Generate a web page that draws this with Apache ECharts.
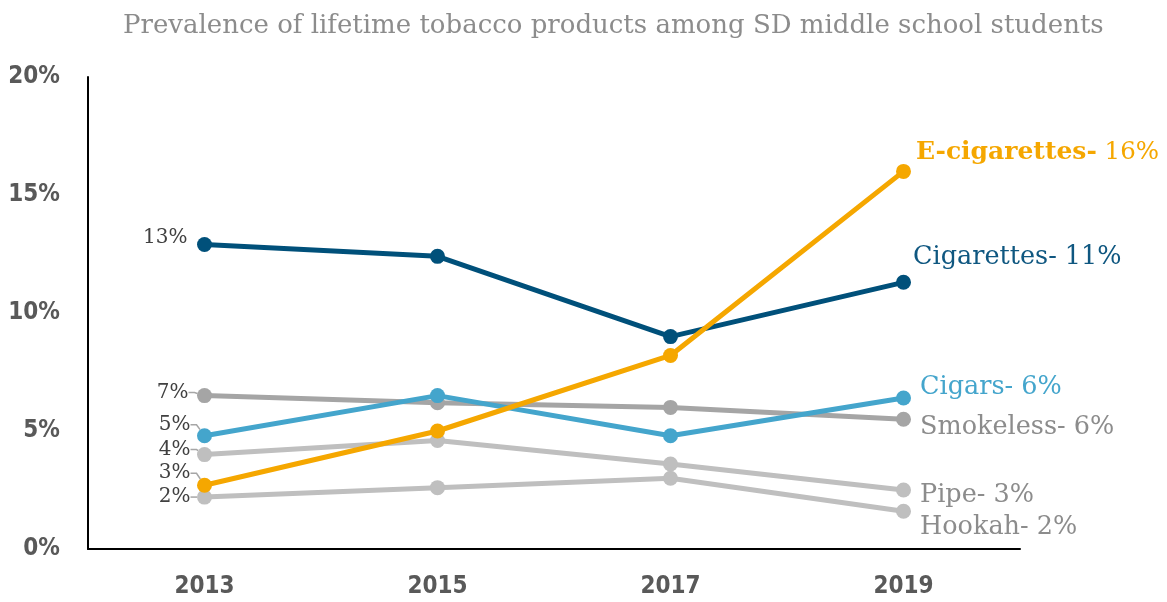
<!DOCTYPE html>
<html>
<head>
<meta charset="utf-8">
<script src="https://cdn.jsdelivr.net/npm/echarts@6/dist/echarts.min.js"></script>
<style>html,body{margin:0;padding:0;background:#fff;}#c{width:1167px;height:602px;}</style>
</head>
<body>
<div id="c"></div>
<script>
var years = ['2013', '2015', '2017', '2019'];
var yTicks = [0, 5, 10, 15, 20];
var seriesNames = ['Hookah', 'Pipe', 'Smokeless', 'Cigars', 'Cigarettes', 'E-cigarettes'];
var hookah = [2.2, 2.6, 3.0, 1.6];
var pipe = [4.0, 4.6, 3.6, 2.5];
var smokeless = [6.5, 6.2, 6.0, 5.5];
var cigars = [4.8, 6.5, 4.8, 6.4];
var cigarettes = [12.9, 12.4, 9.0, 11.3];
var ecigarettes = [2.7, 5.0, 8.2, 16.0];
var startLabels = ['2%', '4%', '7%', '5%', '13%', '3%'];
var endLabels = ['2%', '3%', '6%', '6%', '11%', '16%'];

var values = [hookah, pipe, smokeless, cigars, cigarettes, ecigarettes];
var lineColors = ['#BFBFBF', '#BFBFBF', '#A5A5A5', '#44A5CC', '#00507A', '#F5A700'];
var labelColors = ['#8C8C8C', '#8C8C8C', '#8C8C8C', '#44A5CC', '#0F5780', '#F5A700'];
// start-label shifts relative to the point: [gap left of point, vertical shift]
var startShift = [[14, 0], [14, -5], [16, -3], [14, -11], [17, -7], [14, -12]];
var leader = [true, true, true, true, false, true];
// end-label shifts relative to default 'right' placement
var endShift = [[4, 16], [4, 5], [4, 8], [4, -11], [-3, -25], [0, -19]];

var serif = '"DejaVu Serif", serif';
var sansBold = '"DejaVu Sans Condensed", "Liberation Sans Narrow", sans-serif';

var series = seriesNames.map(function (name, i) {
  var last = values[i].length - 1;
  var data = values[i].map(function (v, j) {
    var d = { value: v };
    if (j === 0) {
      d.label = {
        show: true, position: 'left',
        formatter: startLabels[i], color: '#404040', fontFamily: serif, fontSize: 20
      };
      d.labelLine = { show: leader[i], length2: 6, lineStyle: { color: '#A6A6A6', width: 1.5 } };
    } else if (j === last) {
      var isE = name === 'E-cigarettes';
      d.label = {
        show: true, position: 'right', distance: 5,
        formatter: '{n|' + name + '-}{v| ' + endLabels[i] + '}',
        rich: {
          n: { color: labelColors[i], fontFamily: serif, fontSize: isE ? 25 : 25.5, fontWeight: isE ? 'bold' : 'normal' },
          v: { color: labelColors[i], fontFamily: serif, fontSize: isE ? 24.5 : 25.5 }
        }
      };
    }
    return d;
  });
  return {
    name: name, type: 'line', data: data,
    symbol: 'circle', symbolSize: 15,
    lineStyle: { color: lineColors[i], width: 5 },
    itemStyle: { color: lineColors[i] },
    label: { show: false },
    labelLayout: function (p) {
      if (p.dataIndex === 0) {
        var s = startShift[i];
        return {
          x: p.rect.x + p.rect.width / 2 - s[0],
          y: p.rect.y + p.rect.height / 2 + s[1],
          align: 'right', verticalAlign: 'middle'
        };
      }
      if (p.dataIndex === last) {
        return { dx: endShift[i][0], dy: endShift[i][1] };
      }
      return {};
    },
    emphasis: { disabled: true },
    z: 2 + i
  };
});

var chart = echarts.init(document.getElementById('c'));
chart.setOption({
  animation: false,
  title: {
    text: 'Prevalence of lifetime tobacco products among SD middle school students',
    left: 118, top: 8,
    textStyle: { color: '#8C8C8C', fontFamily: serif, fontSize: 26, fontWeight: 'normal' }
  },
  grid: { left: 88, right: 147, top: 77, bottom: 53 },
  xAxis: {
    type: 'category', data: years, boundaryGap: true,
    axisLine: { lineStyle: { color: '#000', width: 2 } },
    axisTick: { show: false },
    axisLabel: { color: '#595959', fontWeight: 'bold', fontSize: 24, fontFamily: sansBold, margin: 26 }
  },
  yAxis: {
    type: 'value', min: yTicks[0], max: yTicks[yTicks.length - 1], interval: 5,
    axisLine: { show: true, lineStyle: { color: '#000', width: 2 } },
    axisTick: { show: false },
    splitLine: { show: false },
    axisLabel: { color: '#595959', fontWeight: 'bold', fontSize: 24, fontFamily: sansBold, margin: 28, formatter: '{value}%' }
  },
  series: series
});
</script>
</body>
</html>
